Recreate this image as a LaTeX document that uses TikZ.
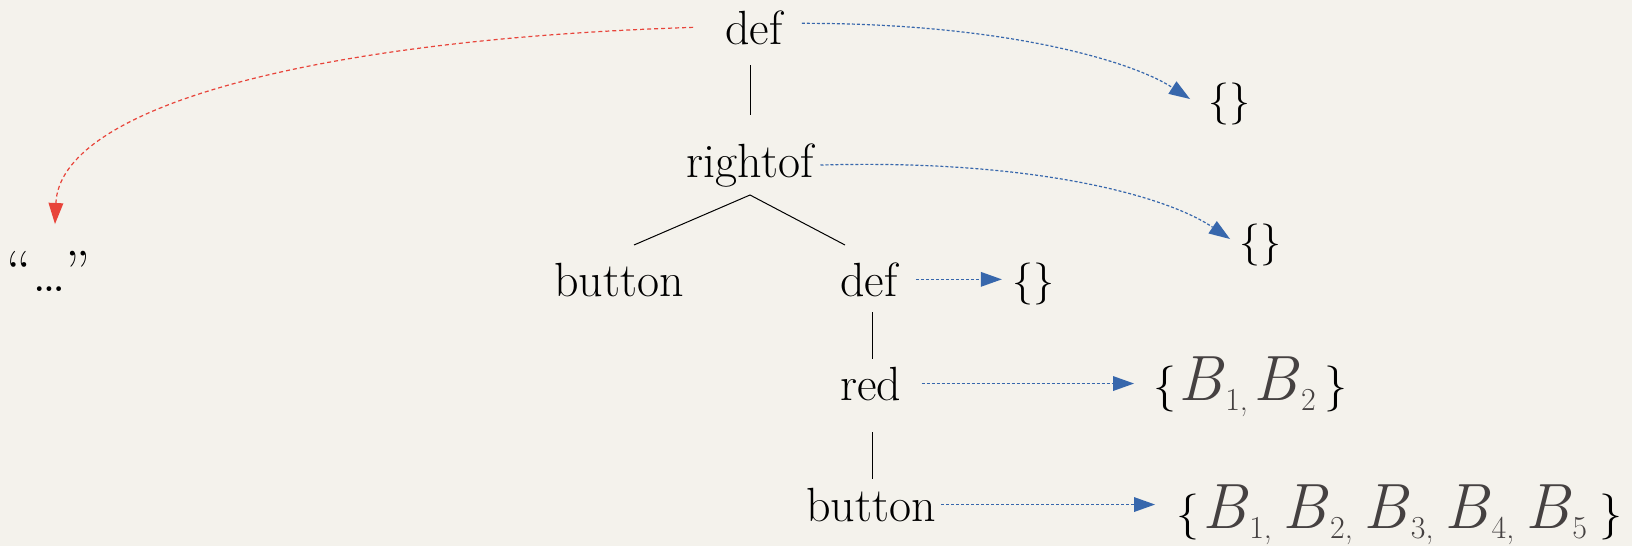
\documentclass[tikz,border=0pt]{standalone}
\usetikzlibrary{arrows.meta}
\definecolor{bg}{HTML}{F4F2EC}
\definecolor{redc}{HTML}{E8443A}
\definecolor{bluec}{HTML}{3767AC}
\definecolor{bgray}{HTML}{454141}
\newcommand\Bsb[1]{\textit{B}\kern1pt\raisebox{-10pt}{\fontsize{32}{32}\selectfont #1}}
\newcommand\brc[1]{{\fontsize{46}{46}\selectfont #1}}
\begin{document}
\begin{tikzpicture}[x=1pt,y=-1pt,
  lbl/.style={inner sep=0pt, font=\fontsize{48}{52}\selectfont},
  brlbl/.style={inner sep=0pt, font=\fontsize{42}{46}\selectfont},
  setlbl/.style={inner sep=0pt, text=bgray, font=\fontsize{64}{66}\selectfont},
  treeline/.style={draw=black, line width=1pt},
  bluearr/.style={draw=bluec, line width=1.2pt, dash pattern=on 3pt off 2pt,
    -{Triangle[length=21pt,width=15pt,fill=bluec,line width=0pt]}},
  redarr/.style={draw=redc, line width=1.2pt, dash pattern=on 4pt off 3pt,
    -{Triangle[length=21pt,width=15pt,fill=redc,line width=0pt]}}]
\fill[bg] (0,0) rectangle (1632,546);
\useasboundingbox (0,0) rectangle (1632,546);

% tree nodes
\node[lbl, anchor=base] (d1) at (754,44) {def};
\node[lbl, anchor=base] (ro) at (750,177) {rightof};
\node[lbl, anchor=base] (bl) at (619,296) {button};
\node[lbl, anchor=base] (d2) at (869,296) {def};
\node[lbl, anchor=base] (rd) at (871,400) {red};
\node[lbl, anchor=base] (bb) at (871,521) {button};
\node[lbl, anchor=base, font=\fontsize{58}{62}\selectfont] (q) at (49,291) {\textquotedblleft\ldots\textquotedblright};

% result sets
\node[brlbl, anchor=base] (e1) at (1229,114) {\{\}};
\node[brlbl, anchor=base] (e2) at (1260,255) {\{\}};
\node[brlbl, anchor=base] (e3) at (1033,294) {\{\}};
\node[setlbl, anchor=base west] (s2) at (1153,400)
  {\brc{\textcolor{black}{\{}}\hspace{2pt}\Bsb{1,}\hspace{6pt}\Bsb{2}\hspace{9pt}\brc{\textcolor{black}{\}}}};
\node[setlbl, anchor=base west] (s5) at (1176,528)
  {\brc{\textcolor{black}{\{}}\hspace{3pt}\Bsb{1,}\hspace{11pt}\Bsb{2,}\hspace{11pt}\Bsb{3,}\hspace{11pt}\Bsb{4,}\hspace{11pt}\Bsb{5}\hspace{12pt}\brc{\textcolor{black}{\}}}};

% tree lines
\coordinate (v1a) at (750,65);
\coordinate (v1b) at (750,115);
\coordinate (apex) at (750,195);
\coordinate (lend) at (634,245);
\coordinate (rend) at (845,245);
\coordinate (v2a) at (872,312);
\coordinate (v2b) at (872,359);
\coordinate (v3a) at (872,432);
\coordinate (v3b) at (872,479);
\draw[treeline] (v1a) -- (v1b);
\draw[treeline] (lend) -- (apex) -- (rend);
\draw[treeline] (v2a) -- (v2b);
\draw[treeline] (v3a) -- (v3b);

% arrows
\coordinate (rtip) at (55,224);
\coordinate (b1tip) at (1190,99);
\coordinate (b2tip) at (1230,239);
\draw[redarr] ([xshift=-32pt]d1.west) .. controls (300,40) and (60,110) .. (rtip);
\draw[bluearr] ([xshift=19pt,yshift=4pt]d1.east) .. controls (1000,23) and (1130,60) .. (b1tip);
\draw[bluearr] ([xshift=7pt]ro.east) .. controls (1030,159) and (1165,195) .. (b2tip);
\draw[bluearr, shorten <=18pt, shorten >=10pt] (d2.east) -- (d2.east -| e3.west);
\draw[bluearr, shorten <=20pt, shorten >=19pt] (rd.east) -- (rd.east -| s2.west);
\draw[bluearr, shorten <=5pt, shorten >=21pt] (bb.east) -- (bb.east -| s5.west);
\end{tikzpicture}
\end{document}
